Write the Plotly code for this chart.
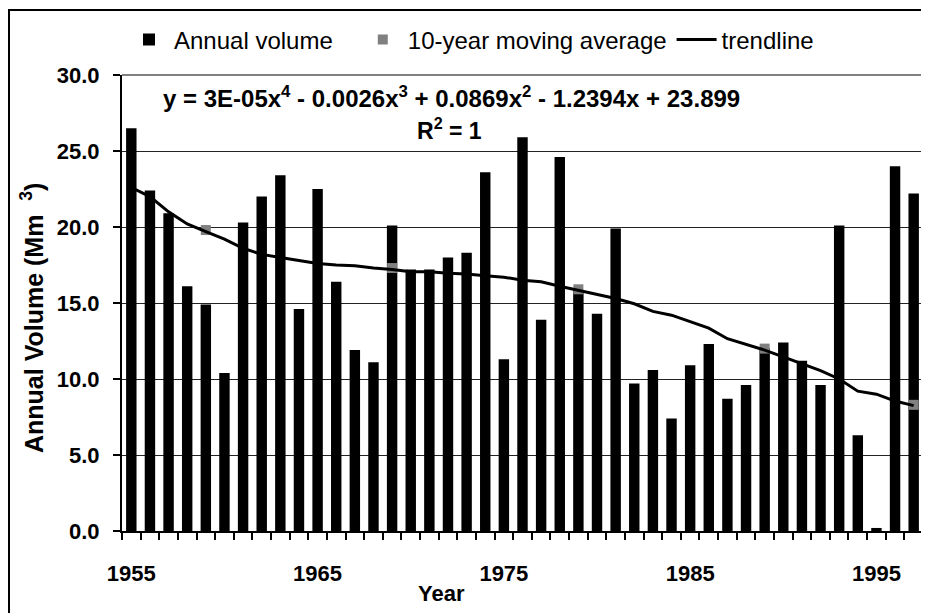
import plotly.graph_objects as go

years = list(range(1955, 1998))
annual_volume = [26.5, 22.4, 20.9, 16.1, 14.9, 10.4, 20.3, 22.0, 23.4, 14.6,
                 22.5, 16.4, 11.9, 11.1, 20.1, 17.2, 17.2, 18.0, 18.3, 23.6,
                 11.3, 25.9, 13.9, 24.6, 15.8, 14.3, 19.9, 9.7, 10.6, 7.4,
                 10.9, 12.3, 8.7, 9.6, 12.0, 12.4, 11.2, 9.6, 20.1, 6.3,
                 0.2, 24.0, 22.2]
ma_years = [1959, 1969, 1979, 1989, 1997]
ma_values = [19.8, 17.3, 15.9, 12.0, 8.3]
trend_values = [22.6, 22.0, 21.0, 20.2, 19.7, 19.2, 18.6, 18.2, 18.0, 17.8,
                17.6, 17.5, 17.45, 17.3, 17.2, 17.05, 17.05, 16.95, 16.9, 16.8,
                16.7, 16.5, 16.4, 16.1, 15.85, 15.55, 15.3, 14.95, 14.45, 14.2,
                13.75, 13.35, 12.65, 12.3, 11.9, 11.45, 11.0, 10.55, 10.0, 9.2,
                9.0, 8.55, 8.25]
x_tick_years = [1955, 1965, 1975, 1985, 1995]
y_ticks = [0, 5, 10, 15, 20, 25, 30]

FONT = "Liberation Sans, Arial, sans-serif"
NB = "\u00a0"

fig = go.Figure()
fig.add_trace(go.Bar(x=years, y=annual_volume, name="Annual volume" + NB * 3,
                     marker=dict(color="black", line=dict(width=0)), width=0.56))
fig.add_trace(go.Scatter(x=ma_years, y=ma_values, mode="markers",
                         name="10-year moving average",
                         marker=dict(symbol="square", color="#808080", size=10)))
fig.add_trace(go.Scatter(x=years, y=trend_values, mode="lines", name="trendline",
                         line=dict(color="black", width=3)))

# page body has an 8px margin: figure is drawn at page offset (8, 8)
OFF = 8
W, H = 929 - OFF, 613 - OFF
PL, PR, PT, PB = 122, 923, 75, 531          # plot area in page pixels
L, T = PL - OFF, PT - OFF
R, B = (929 - PR), (613 - PB)
pw, ph = PR - PL, PB - PT

def px(x):
    return (x - PL) / pw

def py(y):
    return 1 - (y - PT) / ph

fig.update_layout(
    width=W, height=H,
    margin=dict(l=L, r=R, t=T, b=B, autoexpand=False),
    paper_bgcolor="white", plot_bgcolor="white",
    font=dict(family=FONT, color="black"),
    showlegend=True,
    legend=dict(orientation="h", x=px(124), y=py(40), xanchor="left", yanchor="middle",
                font=dict(size=24, family=FONT), bgcolor="rgba(0,0,0,0)",
                traceorder="normal", itemwidth=40),
    xaxis=dict(range=[1954.5, 1997.5], tickvals=x_tick_years,
               ticktext=[str(v) for v in x_tick_years], automargin=False,
               ticks="outside", ticklen=0, tickcolor="rgba(0,0,0,0)",
               minor=dict(ticks="outside", tick0=1954.5, dtick=1, ticklen=7,
                          tickcolor="black", tickwidth=1.5, showgrid=False),
               ticklabelstandoff=22,
               tickfont=dict(size=22, family=FONT, weight="bold"),
               showline=True, linecolor="black", linewidth=2, showgrid=False,
               zeroline=False),
    yaxis=dict(range=[0, 30], tickvals=y_ticks, tickformat=".1f", automargin=False,
               ticks="outside", ticklen=7, tickcolor="black", tickwidth=1.5,
               ticklabelstandoff=9,
               tickfont=dict(size=22, family=FONT, weight="bold"),
               showline=True, linecolor="black", linewidth=2,
               showgrid=True, gridcolor="#222222", gridwidth=1, zeroline=False),
    bargap=0.45,
)

# plot-area frame (top/right, gray) and outer chart border
fig.add_shape(type="line", xref="paper", yref="paper", x0=0, x1=1, y0=1, y1=1,
              line=dict(color="#808080", width=2))
fig.add_shape(type="line", xref="paper", yref="paper", x0=1, x1=1, y0=0, y1=1,
              line=dict(color="#808080", width=2))
fig.add_shape(type="rect", xref="paper", yref="paper",
              x0=px(9), x1=px(945), y0=py(10), y1=py(640),
              line=dict(color="black", width=2), fillcolor="rgba(0,0,0,0)", layer="below")

fig.add_annotation(xref="paper", yref="paper", x=px(451), y=py(97), showarrow=False,
                   text="<b>y = 3E-05x<sup>4</sup> - 0.0026x<sup>3</sup> + 0.0869x<sup>2</sup> - 1.2394x + 23.899</b>",
                   font=dict(size=24, family=FONT), xanchor="center", yanchor="middle")
fig.add_annotation(xref="paper", yref="paper", x=px(449), y=py(129), showarrow=False,
                   text="<b>R<sup>2</sup> = 1</b>",
                   font=dict(size=23, family=FONT), xanchor="center", yanchor="middle")
fig.add_annotation(xref="paper", yref="paper", x=px(441), y=py(593), showarrow=False,
                   text="<b>Year</b>", font=dict(size=22, family=FONT),
                   xanchor="center", yanchor="middle")
fig.add_annotation(xref="paper", yref="paper", x=px(32), y=py(318), showarrow=False,
                   text="<b>Annual Volume (Mm" + NB * 2 + "<sup>3</sup>)</b>", textangle=-90,
                   font=dict(size=25, family=FONT), xanchor="center", yanchor="middle")

fig.write_html("out.html")
